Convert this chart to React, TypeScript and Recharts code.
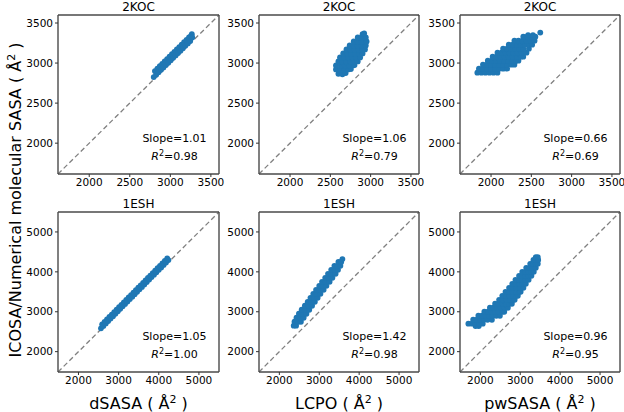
import React from "react";
import { ScatterChart, Scatter, XAxis, YAxis, ReferenceLine } from "recharts";

// ---- data ----
const kocTicks = [2000, 2500, 3000, 3500];
const eshTicks = [2000, 3000, 4000, 5000];
const kocDomain: [number, number] = [1615, 3600];
const eshDomain: [number, number] = [1490, 5500];

const methods = ["dSASA", "LCPO", "pwSASA"];
const slopesKoc = ["1.01", "1.06", "0.66"];
const r2Koc = ["0.98", "0.79", "0.69"];
const slopesEsh = ["1.05", "1.42", "0.96"];
const r2Esh = ["1.00", "0.98", "0.95"];

const kocDsasa = [
  [2795, 2825], [2810, 2900], [2825, 2855], [2840, 2930], [2855, 2885], [2870, 2960],
  [2885, 2915], [2900, 2990], [2915, 2945], [2930, 3020], [2945, 2975], [2960, 3050],
  [2975, 3005], [2990, 3080], [3005, 3035], [3020, 3110], [3035, 3065], [3050, 3140],
  [3065, 3095], [3080, 3170], [3095, 3125], [3110, 3200], [3125, 3155], [3140, 3230],
  [3155, 3185], [3170, 3260], [3185, 3215], [3200, 3290], [3215, 3245], [3230, 3320],
  [3245, 3275], [3255, 3340], [3265, 3360], [3270, 3320]
];

const kocLcpo = [
  [2600, 2865], [2650, 2860], [2690, 2875],
  [2570, 2920], [2620, 2920], [2670, 2920], [2720, 2920], [2755, 2925],
  [2570, 2970], [2630, 2970], [2680, 2970], [2730, 2970], [2780, 2970], [2800, 2975],
  [2600, 3020], [2650, 3020], [2700, 3020], [2750, 3020], [2800, 3020], [2840, 3020],
  [2620, 3070], [2670, 3070], [2720, 3070], [2770, 3070], [2820, 3070], [2870, 3070],
  [2660, 3120], [2710, 3120], [2760, 3120], [2810, 3120], [2860, 3120], [2900, 3120],
  [2700, 3170], [2750, 3170], [2800, 3170], [2850, 3170], [2900, 3170], [2930, 3170],
  [2740, 3220], [2790, 3220], [2840, 3220], [2890, 3220], [2940, 3220],
  [2790, 3270], [2840, 3270], [2890, 3270], [2950, 3270],
  [2840, 3320], [2890, 3320], [2940, 3320],
  [2900, 3360], [2920, 3370]
];

const kocPwsasa = [
  [1830, 2880], [1880, 2880], [1930, 2880], [1980, 2880], [2030, 2880], [2080, 2880],
  [1850, 2930], [1900, 2930], [1950, 2930], [2000, 2930], [2050, 2930], [2100, 2930], [2150, 2930], [2200, 2930],
  [1900, 2980], [1950, 2980], [2000, 2980], [2050, 2980], [2100, 2980], [2150, 2980], [2200, 2980], [2250, 2980], [2290, 2980],
  [1960, 3030], [2010, 3030], [2060, 3030], [2110, 3030], [2160, 3030], [2210, 3030], [2260, 3030], [2310, 3030], [2340, 3030],
  [2020, 3080], [2070, 3080], [2120, 3080], [2170, 3080], [2220, 3080], [2270, 3080], [2320, 3080], [2370, 3080], [2400, 3080],
  [2080, 3130], [2130, 3130], [2180, 3130], [2230, 3130], [2280, 3130], [2330, 3130], [2380, 3130], [2440, 3130],
  [2150, 3180], [2200, 3180], [2250, 3180], [2300, 3180], [2350, 3180], [2400, 3180], [2470, 3180],
  [2220, 3230], [2270, 3230], [2320, 3230], [2370, 3230], [2420, 3230], [2470, 3230], [2510, 3230],
  [2290, 3280], [2340, 3280], [2390, 3280], [2440, 3280], [2490, 3280], [2540, 3280],
  [2400, 3330], [2450, 3330], [2500, 3330], [2550, 3330],
  [2460, 3350], [2520, 3350],
  [2611, 3380]
];

const eshDsasa = [
  [2560, 2585], [2590, 2686], [2620, 2646], [2650, 2747], [2680, 2707], [2710, 2808],
  [2740, 2768], [2770, 2869], [2800, 2829], [2830, 2930], [2860, 2890], [2890, 2991],
  [2920, 2951], [2950, 3052], [2980, 3013], [3010, 3113], [3040, 3074], [3070, 3174],
  [3100, 3135], [3130, 3235], [3160, 3196], [3190, 3296], [3220, 3257], [3250, 3357],
  [3280, 3318], [3310, 3419], [3340, 3379], [3370, 3480], [3400, 3440], [3430, 3541],
  [3460, 3501], [3490, 3602], [3520, 3562], [3550, 3663], [3580, 3623], [3610, 3724],
  [3640, 3684], [3670, 3785], [3700, 3746], [3730, 3846], [3760, 3807], [3790, 3907],
  [3820, 3868], [3850, 3968], [3880, 3929], [3910, 4029], [3940, 3990], [3970, 4091],
  [4000, 4051], [4030, 4152], [4060, 4112], [4090, 4213], [4120, 4173], [4150, 4274],
  [4180, 4234], [4210, 4335], [4240, 4295]
];

const eshLcpo = [
  [2360, 2650], [2420, 2650],
  [2380, 2750], [2470, 2750], [2540, 2750],
  [2430, 2850], [2520, 2850], [2610, 2850],
  [2490, 2950], [2590, 2950], [2680, 2950],
  [2560, 3050], [2660, 3050], [2750, 3050],
  [2640, 3150], [2730, 3150], [2820, 3150],
  [2710, 3250], [2800, 3250], [2890, 3250],
  [2780, 3350], [2870, 3350], [2960, 3350],
  [2850, 3450], [2940, 3450], [3030, 3450],
  [2920, 3550], [3010, 3550], [3110, 3550],
  [3000, 3650], [3090, 3650], [3180, 3650],
  [3070, 3750], [3160, 3750], [3260, 3750],
  [3150, 3850], [3240, 3850], [3330, 3850],
  [3220, 3950], [3310, 3950], [3410, 3950],
  [3300, 4050], [3390, 4050], [3470, 4050],
  [3380, 4150], [3460, 4150], [3530, 4150],
  [3480, 4250], [3550, 4250],
  [3580, 4320]
];

const eshPwsasa = [
  [1880, 2640], [1960, 2640],
  [1700, 2700], [1790, 2700], [1880, 2700], [1970, 2700], [2060, 2700],
  [1820, 2800], [1910, 2800], [2000, 2800], [2090, 2800], [2180, 2800], [2290, 2800],
  [1950, 2900], [2040, 2900], [2130, 2900], [2220, 2900], [2310, 2900], [2400, 2900], [2490, 2900],
  [2100, 3000], [2190, 3000], [2280, 3000], [2370, 3000], [2460, 3000], [2550, 3000], [2600, 3000],
  [2240, 3100], [2330, 3100], [2420, 3100], [2510, 3100], [2600, 3100], [2690, 3100],
  [2370, 3200], [2460, 3200], [2550, 3200], [2640, 3200], [2720, 3200], [2790, 3200],
  [2470, 3300], [2560, 3300], [2650, 3300], [2740, 3300], [2820, 3300], [2860, 3300],
  [2550, 3400], [2640, 3400], [2730, 3400], [2820, 3400], [2900, 3400], [2940, 3400],
  [2630, 3500], [2720, 3500], [2810, 3500], [2900, 3500], [2980, 3500], [3010, 3500],
  [2720, 3600], [2810, 3600], [2900, 3600], [2990, 3600], [3080, 3600],
  [2800, 3700], [2890, 3700], [2980, 3700], [3060, 3700], [3140, 3700],
  [2880, 3800], [2970, 3800], [3050, 3800], [3130, 3800], [3210, 3800],
  [2970, 3900], [3050, 3900], [3130, 3900], [3210, 3900], [3280, 3900],
  [3050, 4000], [3130, 4000], [3210, 4000], [3280, 4000], [3340, 4000],
  [3150, 4100], [3230, 4100], [3310, 4100], [3390, 4100],
  [3250, 4200], [3320, 4200], [3390, 4200], [3440, 4200],
  [3330, 4300], [3390, 4300], [3450, 4300],
  [3390, 4370], [3440, 4370]
];

const FONT = "'DejaVu Sans', sans-serif";
const BLUE = "#1f77b4";
const FRAME = "#4a4a4a";

const toPoints = (arr: number[][]) => arr.map(([x, y]) => ({ x, y }));

const Dot = (p: any) => <circle cx={p.cx} cy={p.cy} r={2.9} fill={BLUE} />;

interface PanelProps {
  left: number;
  top: number;
  w: number;
  h: number;
  domain: [number, number];
  ticks: number[];
  points: number[][];
  title: string;
  slope: string;
  r2: string;
  xLabel?: string;
}

const Panel: React.FC<PanelProps> = ({ left, top, w, h, domain, ticks, points, title, slope, r2, xLabel }) => {
  const yw = 36;
  const rm = 18;
  const [d0, d1] = domain;
  const tickStyle = { fontSize: 10.5, fill: "#000", fontFamily: FONT };
  // four sides of the axes box
  const sides = [
    [{ x: d0, y: d0 }, { x: d1, y: d0 }],
    [{ x: d0, y: d1 }, { x: d1, y: d1 }],
    [{ x: d0, y: d0 }, { x: d0, y: d1 }],
    [{ x: d1, y: d0 }, { x: d1, y: d1 }]
  ];
  return (
    <>
      <div style={{ position: "absolute", left: left - yw, top: top - 2 }}>
        <ScatterChart width={yw + w + rm} height={2 + h + 22} margin={{ top: 2, right: rm, bottom: 0, left: 0 }}>
          <XAxis
            type="number"
            dataKey="x"
            domain={domain}
            ticks={ticks}
            interval={0}
            height={22}
            tickSize={3}
            tickMargin={2}
            axisLine={false}
            tickLine={{ stroke: "#333" }}
            tick={tickStyle}
            allowDataOverflow
          />
          <YAxis
            type="number"
            dataKey="y"
            domain={domain}
            ticks={ticks}
            interval={0}
            width={yw}
            tickSize={3}
            tickMargin={2}
            axisLine={false}
            tickLine={{ stroke: "#333" }}
            tick={tickStyle}
            allowDataOverflow
          />
          <Scatter data={toPoints(points)} fill={BLUE} shape={Dot} isAnimationActive={false} />
          <ReferenceLine
            segment={[{ x: d0, y: d0 }, { x: d1, y: d1 }]}
            stroke="#808080"
            strokeWidth={1.3}
            strokeDasharray="5 3"
          />
          {sides.map((s, i) => (
            <ReferenceLine key={i} segment={s} stroke={FRAME} strokeWidth={1.4} />
          ))}
        </ScatterChart>
      </div>
      <div
        style={{
          position: "absolute",
          left,
          width: w,
          top: top - 15,
          height: 14,
          lineHeight: "14px",
          textAlign: "center",
          fontSize: 12,
          fontFamily: FONT
        }}
      >
        {title}
      </div>
      <div
        style={{
          position: "absolute",
          left: left + w - 94.5,
          width: 100,
          top: top + h - 43,
          textAlign: "center",
          fontSize: 11,
          lineHeight: "15px",
          fontFamily: FONT
        }}
      >
        <div>Slope={slope}</div>
        <div>
          <i>R</i>
          <sup style={{ fontSize: 8, verticalAlign: "4px" }}>2</sup>={r2}
        </div>
      </div>
      {xLabel && (
        <div
          style={{
            position: "absolute",
            left: left - 30,
            width: w + 60,
            top: top + h + 17,
            height: 22,
            lineHeight: "22px",
            textAlign: "center",
            fontSize: 16,
            fontFamily: FONT
          }}
        >
          {xLabel} ( Å<sup style={{ fontSize: 11, verticalAlign: "6px" }}>2</sup> )
        </div>
      )}
    </>
  );
};

const cols = [
  { left: 58, w: 161 },
  { left: 259, w: 160 },
  { left: 460, w: 160 }
];

const kocData = [kocDsasa, kocLcpo, kocPwsasa];
const eshData = [eshDsasa, eshLcpo, eshPwsasa];

export default function App() {
  return (
    <div style={{ position: "absolute", left: 0, top: 0, width: 624, height: 412, background: "#fff", overflow: "hidden" }}>
      {cols.map((c, i) => (
        <Panel
          key={"koc" + i}
          left={c.left}
          top={15}
          w={c.w}
          h={159}
          domain={kocDomain}
          ticks={kocTicks}
          points={kocData[i]}
          title="2KOC"
          slope={slopesKoc[i]}
          r2={r2Koc[i]}
        />
      ))}
      {cols.map((c, i) => (
        <Panel
          key={"esh" + i}
          left={c.left}
          top={212}
          w={c.w}
          h={160}
          domain={eshDomain}
          ticks={eshTicks}
          points={eshData[i]}
          title="1ESH"
          slope={slopesEsh[i]}
          r2={r2Esh[i]}
          xLabel={methods[i]}
        />
      ))}
      <div
        style={{
          position: "absolute",
          left: 12 - 200,
          top: 200 - 11,
          width: 400,
          height: 22,
          lineHeight: "22px",
          textAlign: "center",
          fontSize: 16,
          fontFamily: FONT,
          transform: "rotate(-90deg)"
        }}
      >
        ICOSA/Numerical molecular SASA ( Å<sup style={{ fontSize: 11, verticalAlign: "6px" }}>2</sup> )
      </div>
    </div>
  );
}
